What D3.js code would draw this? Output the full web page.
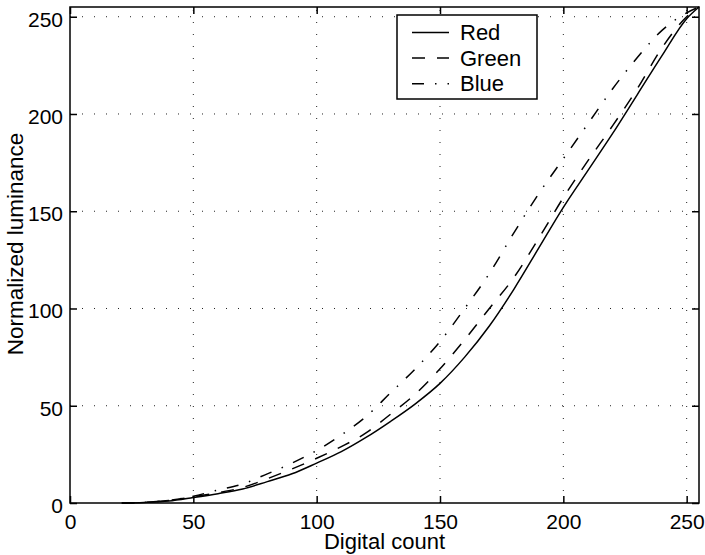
<!DOCTYPE html>
<html>
<head>
<meta charset="utf-8">
<script src="https://cdn.jsdelivr.net/npm/d3@7"></script>
<style>
  html, body { margin: 0; padding: 0; background: #fff; overflow: hidden; }
  svg { display: block; }
</style>
</head>
<body>
<div id="chart"></div>
<script>
/* =========================================
   Display luminance curves — MATLAB-style
   ========================================= */

// ---- Data ----
const digitalCount = [21, 30, 40, 50, 60, 70, 80, 90, 100, 110, 120, 130, 140, 150, 160, 170, 180, 190, 200, 210, 220, 230, 240, 250, 255];
const redLum   = [0, 0.3, 1.0, 2.8, 4.8, 7.2, 11, 15, 20.5, 26.4, 33.7, 42, 51, 61.5, 75, 91, 110, 131, 152, 171, 190, 210, 230, 249, 255];
const greenLum = [0, 0.3, 1.3, 3.2, 5.3, 8, 12.5, 17.5, 23, 29, 36, 45.7, 56, 69, 84, 100, 116, 136, 157, 176, 194, 213, 234, 250, 255];
const blueLum  = [0, 0.3, 1.3, 3.5, 6.7, 9.8, 15, 20.5, 27, 35, 44.4, 56.7, 69, 83, 100, 118, 139, 159, 177, 195, 213, 229, 243, 252, 255];

const seriesNames = ['Red', 'Green', 'Blue'];
const xTicks = [0, 50, 100, 150, 200, 250];
const yTicks = [0, 50, 100, 150, 200, 250];

const width = 705, height = 555;
const margin = { top: 7, right: 6, bottom: 52, left: 70 };
const innerWidth = width - margin.left - margin.right;
const innerHeight = height - margin.top - margin.bottom;
const font = '"Liberation Sans", Arial, Helvetica, sans-serif';

const svg = d3.select('#chart').append('svg')
  .attr('width', width)
  .attr('height', height);

const g = svg.append('g').attr('transform', `translate(${margin.left},${margin.top})`);

// ---- Scales ----
const x = d3.scaleLinear().domain([0, 255]).range([0, innerWidth]);
const y = d3.scaleLinear().domain([0, 255]).range([innerHeight, 0]);

// ---- Dotted grid ----
const grid = g.append('g')
  .attr('stroke', '#222')
  .attr('stroke-width', 1)
  .attr('stroke-dasharray', '1 11');

grid.selectAll('.gx').data(xTicks.filter(d => d > 0)).join('line')
  .attr('x1', d => x(d)).attr('x2', d => x(d))
  .attr('y1', innerHeight).attr('y2', 0);

grid.selectAll('.gy').data(yTicks.filter(d => d > 0)).join('line')
  .attr('x1', 0).attr('x2', innerWidth)
  .attr('y1', d => y(d)).attr('y2', d => y(d));

// ---- Curves ----
const series = [
  { name: seriesNames[0], values: redLum,   dash: null },
  { name: seriesNames[1], values: greenLum, dash: '13 12' },
  { name: seriesNames[2], values: blueLum,  dash: '12 11 1.5 11' },
];

const lineGen = d3.line()
  .x((_, i) => x(digitalCount[i]))
  .y(d => y(d))
  .curve(d3.curveMonotoneX);

g.selectAll('.lum-path')
  .data(series)
  .join('path')
  .attr('class', 'lum-path')
  .attr('d', d => lineGen(d.values))
  .attr('fill', 'none')
  .attr('stroke', '#000')
  .attr('stroke-width', 1.5)
  .attr('stroke-dasharray', d => d.dash);

// ---- Axes (inward ticks on all four sides) ----
const styleAxis = sel => {
  sel.select('.domain').remove();
  sel.selectAll('.tick line').attr('stroke', '#000').attr('stroke-width', 1.5);
  sel.selectAll('text')
    .attr('font-family', font)
    .attr('font-size', '21px')
    .attr('fill', '#000');
};

g.append('g')
  .attr('transform', `translate(0,${innerHeight})`)
  .call(d3.axisBottom(x).tickValues(xTicks).tickSizeInner(-7).tickSizeOuter(0).tickPadding(11))
  .call(styleAxis);

g.append('g')
  .call(d3.axisLeft(y).tickValues(yTicks).tickSizeInner(-7).tickSizeOuter(0).tickPadding(7))
  .call(styleAxis)
  .call(a => a.selectAll('text').attr('dy', '0.45em'));

g.append('g')
  .call(d3.axisTop(x).tickValues(xTicks).tickSizeInner(-7).tickSizeOuter(0).tickFormat(''))
  .call(styleAxis);

g.append('g')
  .attr('transform', `translate(${innerWidth},0)`)
  .call(d3.axisRight(y).tickValues(yTicks).tickSizeInner(-7).tickSizeOuter(0).tickFormat(''))
  .call(styleAxis);

// Box
g.append('rect')
  .attr('width', innerWidth)
  .attr('height', innerHeight)
  .attr('fill', 'none')
  .attr('stroke', '#000')
  .attr('stroke-width', 1.5);

// ---- Axis labels ----
svg.append('text')
  .attr('x', margin.left + innerWidth / 2)
  .attr('y', 549)
  .attr('text-anchor', 'middle')
  .attr('font-family', font)
  .attr('font-size', '22px')
  .text('Digital count');

svg.append('text')
  .attr('transform', 'translate(22.5,244) rotate(-90)')
  .attr('text-anchor', 'middle')
  .attr('font-family', font)
  .attr('font-size', '22.5px')
  .text('Normalized luminance');

// ---- Legend ----
const legend = svg.append('g').attr('transform', 'translate(397,15)');

legend.append('rect')
  .attr('width', 140)
  .attr('height', 84)
  .attr('fill', '#fff')
  .attr('stroke', '#000')
  .attr('stroke-width', 1.5);

const items = legend.selectAll('.legend-item')
  .data(series)
  .join('g')
  .attr('class', 'legend-item')
  .attr('transform', (_, i) => `translate(0,${17.5 + i * 25.6})`);

items.append('line')
  .attr('x1', 15).attr('x2', 52)
  .attr('stroke', '#000')
  .attr('stroke-width', 1.5)
  .attr('stroke-dasharray', d => d.dash);

items.append('text')
  .attr('x', 63)
  .attr('y', 7.5)
  .attr('font-family', font)
  .attr('font-size', '22px')
  .text(d => d.name);
</script>
</body>
</html>
